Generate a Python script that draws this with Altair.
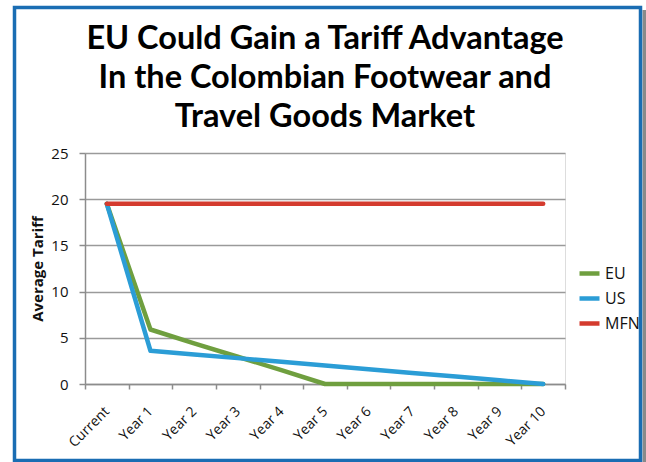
import altair as alt
import pandas as pd

categories = ["Current", "Year 1", "Year 2", "Year 3", "Year 4", "Year 5",
              "Year 6", "Year 7", "Year 8", "Year 9", "Year 10"]
eu = [19.5, 5.9, 4.4, 2.95, 1.5, 0, 0, 0, 0, 0, 0]
us = [19.5, 3.6, 3.2, 2.8, 2.4, 2.0, 1.6, 1.2, 0.8, 0.4, 0]
mfn = [19.5, 19.5, 19.5, 19.5, 19.5, 19.5, 19.5, 19.5, 19.5, 19.5, 19.5]
series = ["EU", "US", "MFN"]
colors = ["#6f9f3f", "#2b9dd6", "#d43b2e"]
title_lines = ["EU Could Gain a Tariff Advantage",
               "In the Colombian Footwear and",
               "Travel Goods Market"]

rows = []
for name, vals in zip(series, [eu, us, mfn]):
    for c, v in zip(categories, vals):
        rows.append({"Period": c, "Tariff": v, "Series": name})
df = pd.DataFrame(rows)

lines = alt.Chart(df).mark_line(strokeWidth=4.5, strokeCap="round", strokeJoin="round").encode(
    x=alt.X("Period:N", sort=categories,
            scale=alt.Scale(paddingInner=0, paddingOuter=0),
            axis=alt.Axis(title=None, tickBand="extent", labelAngle=-45, labelAlign="right",
                          labelBaseline="middle", labelPadding=20, tickSize=5,
                          grid=False, domainColor="#8c8c8c", tickColor="#8c8c8c",
                          domainWidth=1.5, tickWidth=1.5,
                          labelFont="Open Sans", labelFontSize=14, labelColor="#111")),
    y=alt.Y("Tariff:Q", scale=alt.Scale(domain=[0, 25]),
            axis=alt.Axis(title="Average Tariff", values=[0, 5, 10, 15, 20, 25],
                          titleFont="Open Sans", titleFontSize=15, titleFontWeight="bold",
                          titleColor="#111", titlePadding=5,
                          labelFont="Open Sans", labelFontSize=15, labelColor="#111",
                          labelPadding=11, tickSize=6, domainColor="#8c8c8c",
                          tickColor="#8c8c8c", domainWidth=1.5, tickWidth=1.5,
                          gridColor="#9a9a9a", gridWidth=1.3)),
    color=alt.Color("Series:N", sort=series,
                    scale=alt.Scale(domain=series, range=colors),
                    legend=alt.Legend(title=None, orient="none", legendX=492, legendY=108,
                                      symbolType="stroke", symbolSize=400,
                                      symbolStrokeWidth=4.5, labelOffset=3,
                                      labelFont="Open Sans", labelFontSize=16,
                                      labelColor="#111", rowPadding=3)),
)

border = alt.Chart(pd.DataFrame({"a": [0]})).mark_rect(
    fill="transparent", stroke="#1a6db3", strokeWidth=3.5
).encode(x=alt.value(-70.5), x2=alt.value(555.5), y=alt.value(-145.5), y2=alt.value(307.5))

shadow = alt.Chart(pd.DataFrame({"a": [0]})).mark_rect(
    fill="#8a8a8a"
).encode(x=alt.value(557.5), x2=alt.value(561), y=alt.value(-143), y2=alt.value(309))

chart = alt.layer(shadow, lines, border).properties(
    width=480, height=231,
    title=alt.TitleParams(title_lines, font="Lato", fontSize=32.5,
                          fontWeight="bold", color="#000", lineHeight=39,
                          anchor="middle", offset=14, dy=142),
    autosize=alt.AutoSizeParams(type="none"),
    padding={"left": 85, "top": 153, "right": 81, "bottom": 78},
).configure_view(stroke=None).configure(background="white")

chart.save("out.html", embed_options={"renderer": "svg", "actions": False})
